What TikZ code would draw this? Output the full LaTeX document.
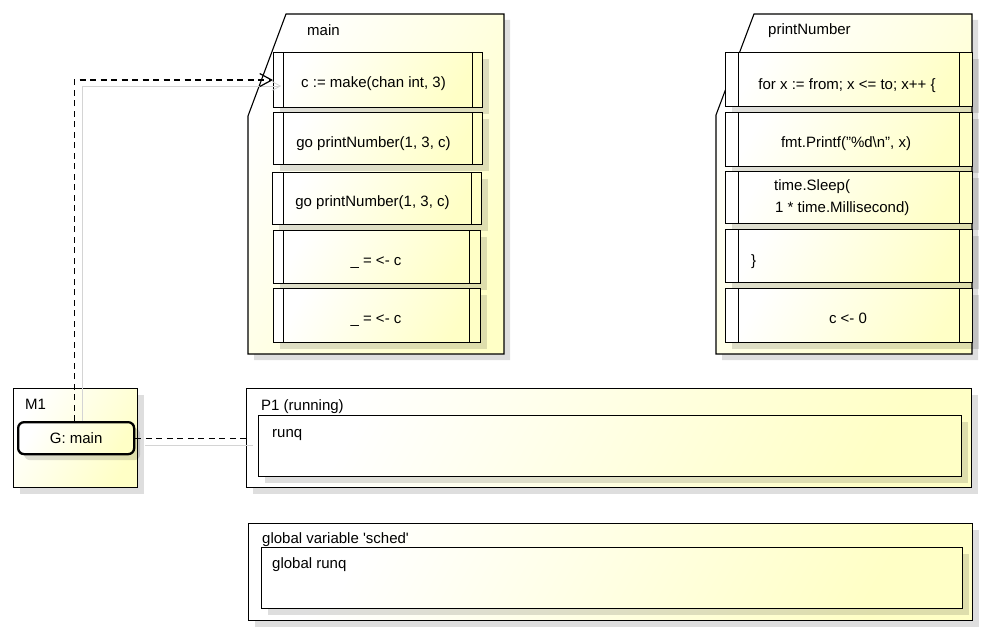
\documentclass[tikz,border=0pt]{standalone}
\usepackage{fontspec}
\setmainfont{Liberation Sans}
\usetikzlibrary{arrows.meta,shadows}
\definecolor{yel}{RGB}{255,255,198}
\definecolor{ghostgray}{RGB}{212,212,212}
\begin{document}
\begin{tikzpicture}[x=1pt,y=-1pt,
  font=\fontsize{15}{22}\selectfont,
  shadowed/.style={drop shadow={shadow xshift=6pt,shadow yshift=-6pt,fill=black,opacity=0.13}},
  grad/.style={top color=white,bottom color=yel,shading angle=60},
  frame/.style={draw=black,line width=1.1pt,grad,shadowed},
  boxed/.style={draw=black,line width=1.1pt,grad,shadowed,rectangle,inner sep=0pt,anchor=north west},
  stmtbox/.style 2 args={boxed,
    path picture={
      \draw[line width=1.1pt] ([xshift=#1]path picture bounding box.north west) -- ([xshift=#1]path picture bounding box.south west);
      \draw[line width=1.1pt] ([xshift=-#2]path picture bounding box.north east) -- ([xshift=-#2]path picture bounding box.south east);
    }},
  lbl/.style={inner sep=0pt},
  depline/.style={line width=1.2pt,dash pattern=on 6pt off 4.5pt,-{Straight Barb[length=12pt,width=13pt,line width=1.2pt]}},
  ghostline/.style={line width=0.8pt,ghostgray,-{Straight Barb[length=8pt,width=9pt,line width=0.8pt]}},
  depplain/.style={line width=1.2pt,dash pattern=on 6pt off 4.5pt},
  ghostplain/.style={line width=0.8pt,ghostgray}
]
\fill[white] (0,0) rectangle (985,634);
\useasboundingbox (0,0) rectangle (985,634);

% ---- main frame ----
\draw[frame] (286,14) -- (504,14) -- (504,354) -- (248,354) -- (248,116) -- cycle;
\node[lbl,anchor=base west] (tmain) at (307,36) {main};
\node[stmtbox={10pt}{10pt},minimum width=209pt,minimum height=55pt] (mA) at (273,52) {};
\node[stmtbox={10pt}{10pt},minimum width=209pt,minimum height=52pt] (mB) at (273,112) {};
\node[stmtbox={11pt}{10pt},minimum width=209pt,minimum height=52pt] (mC) at (272,172) {};
\node[stmtbox={10pt}{11pt},minimum width=207pt,minimum height=53pt] (mD) at (273,230) {};
\node[stmtbox={10pt}{11pt},minimum width=207pt,minimum height=54pt] (mE) at (273,288) {};
\node[lbl,anchor=base] (tA) at (373.5,88) {c := make(chan int, 3)};
\node[lbl,anchor=base] (tB) at (373.5,147) {go printNumber(1, 3, c)};
\node[lbl,anchor=base] (tC) at (372.5,206) {go printNumber(1, 3, c)};
\node[lbl,anchor=base] (tD) at (376,265) {\_ = <- c};
\node[lbl,anchor=base] (tE) at (376,323) {\_ = <- c};

% ---- printNumber frame ----
\draw[frame] (754,14) -- (972,14) -- (972,354) -- (716,354) -- (716,115) -- cycle;
\node[lbl,anchor=base west] (tpn) at (768,35) {printNumber};
\node[stmtbox={13pt}{13pt},minimum width=247pt,minimum height=54pt] (pA) at (725,52) {};
\node[stmtbox={13pt}{13pt},minimum width=247pt,minimum height=54pt] (pB) at (725,112) {};
\node[stmtbox={13pt}{13pt},minimum width=247pt,minimum height=52pt] (pC) at (725,171) {};
\node[stmtbox={13pt}{13pt},minimum width=247pt,minimum height=53pt] (pD) at (725,229) {};
\node[stmtbox={13pt}{13pt},minimum width=247pt,minimum height=54pt] (pE) at (725,288) {};
\node[lbl,anchor=base] (sA) at (847,89) {for x := from; x <= to; x++ \{};
\node[lbl,anchor=base] (sB) at (846,147) {fmt.Printf("\%d\textbackslash n", x)};
\node[lbl,anchor=base west] (sC1) at (774,190) {time.Sleep(};
\node[lbl,anchor=base west] (sC2) at (775,212) {1 * time.Millisecond)};
\node[lbl,anchor=base west] (sD) at (751,265) {\}};
\node[lbl,anchor=base] (sE) at (848,323) {c <- 0};

% ---- M1 ----
\node[boxed,minimum width=124pt,minimum height=99pt] (M1) at (13,388) {};
\node[lbl,anchor=base west] (tM1) at (25,409) {M1};
\node[draw=black,line width=2.3pt,rounded corners=6pt,grad,shadowed,inner sep=0pt,
      minimum width=116pt,minimum height=32pt,anchor=north west] (G) at (17,421) {G: main};

% ---- P1 ----
\node[boxed,minimum width=725pt,minimum height=99pt] (P1) at (246,388) {};
\node[lbl,anchor=base west] (tP1) at (261,410) {P1 (running)};
\node[boxed,minimum width=703pt,minimum height=61pt] (runq) at (258,415) {};
\node[lbl,anchor=base west] (trunq) at (272,437) {runq};

% ---- global sched ----
\node[boxed,minimum width=724pt,minimum height=97pt] (sched) at (248,523) {};
\node[lbl,anchor=base west] (tsched) at (262,543) {global variable \textquotesingle sched\textquotesingle};
\node[boxed,minimum width=701pt,minimum height=61pt] (grunq) at (261,547) {};
\node[lbl,anchor=base west] (tgrunq) at (272,568) {global runq};

% ---- connectors ----
\coordinate (gtip) at (281,86);
\draw[ghostline] ([xshift=6pt]G.north) |- (gtip);
\draw[depline] ([xshift=-2pt]G.north) |- (mA.west);
\draw[ghostplain] ([shift={(10pt,-7pt)}]G.east) -- ([shift={(7pt,-7pt)}]P1.west |- G.east);
\draw[depplain] (G.east) -- (P1.west |- G.east);
\end{tikzpicture}
\end{document}
